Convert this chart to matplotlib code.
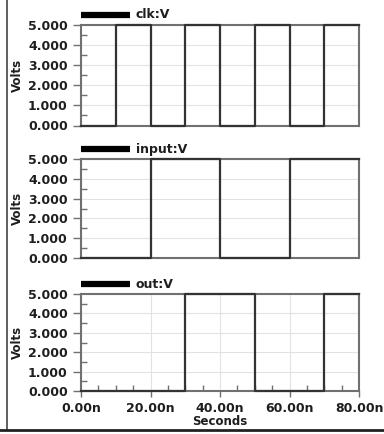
import numpy as np
import matplotlib.pyplot as plt
from matplotlib.lines import Line2D
from matplotlib.ticker import MultipleLocator

clk_t = [0, 10, 20, 30, 40, 50, 60, 70, 80]
clk_v = [0, 5, 0, 5, 0, 5, 0, 5, 5]
input_t = [0, 20, 40, 60, 80]
input_v = [0, 5, 0, 5, 5]
out_t = [0, 30, 50, 70, 80]
out_v = [0, 5, 0, 5, 5]

signals = [("clk:V", clk_t, clk_v),
           ("input:V", input_t, input_v),
           ("out:V", out_t, out_v)]

yticks = [0, 1, 2, 3, 4, 5]
xticks = [0, 20, 40, 60, 80]

plt.rcParams['font.family'] = ['DejaVu Sans']
plt.rcParams['font.weight'] = 'bold'
plt.rcParams['axes.labelweight'] = 'bold'

fig = plt.figure(figsize=(3.84, 4.34), dpi=100)
W, H = 384, 434

# panel boxes in pixels: (top, bottom)
boxes = [(25, 125.5), (159, 258), (294, 391)]
left, right = 81, 359

spine_col = '#707070'
trace_col = '#333333'
txt_col = '#1e1e1e'

for i, ((name, t, v), (top, bot)) in enumerate(zip(signals, boxes)):
    ax = fig.add_axes([left / W, 1 - bot / H, (right - left) / W, (bot - top) / H])
    ax.plot(t, v, drawstyle='steps-post', color=trace_col, lw=1.6, clip_on=False, zorder=3)
    ax.set_xlim(0, 80)
    ax.set_ylim(0, 5)
    ax.set_yticks(yticks)
    ax.set_yticklabels([f"{y:.3f}" for y in yticks], fontsize=9, color=txt_col)
    ax.yaxis.set_minor_locator(MultipleLocator(0.5))
    ax.tick_params(axis='y', which='major', direction='out', length=5.5, width=1, color=spine_col, pad=4)
    ax.tick_params(axis='y', which='minor', direction='in', length=4.5, width=1, color=spine_col)
    ax.set_xticks(xticks)
    ax.grid(True, color='#e2e2e2', lw=0.8, zorder=0)
    for s in ax.spines.values():
        s.set_color(spine_col)
        s.set_linewidth(1.5)
    ax.set_ylabel("Volts", fontsize=8.5, labelpad=0, color=txt_col)
    ax.yaxis.set_label_coords(-0.205, 0.5)
    if i < 2:
        ax.tick_params(axis='x', which='both', length=0, labelbottom=False)
    else:
        ax.set_xticklabels([f"{x:.2f}n" for x in xticks], fontsize=9, color=txt_col)
        ax.xaxis.set_minor_locator(MultipleLocator(5))
        ax.tick_params(axis='x', which='major', direction='out', length=4, width=1, color=spine_col, pad=4)
        ax.tick_params(axis='x', which='minor', direction='in', length=4, width=1, color=spine_col)
        ax.set_xlabel("Seconds", fontsize=8.5, labelpad=0, color=txt_col)

    # legend-like header
    ly = 1 - (top - 10) / H
    fig.add_artist(Line2D([81 / W, 130 / W], [ly, ly], color='black', lw=4.5,
                          solid_capstyle='butt'))
    fig.text(136 / W, ly, name, fontsize=9, va='center', ha='left', color=txt_col)

# outer frame of the screenshot
fig.add_artist(Line2D([7 / W, 7 / W], [1.0, 1 - 430 / H], color='#444444', lw=1.2))
fig.add_artist(Line2D([0, 1], [1 - 430 / H, 1 - 430 / H], color='#222222', lw=2))

fig.savefig("out.png", dpi=100)
